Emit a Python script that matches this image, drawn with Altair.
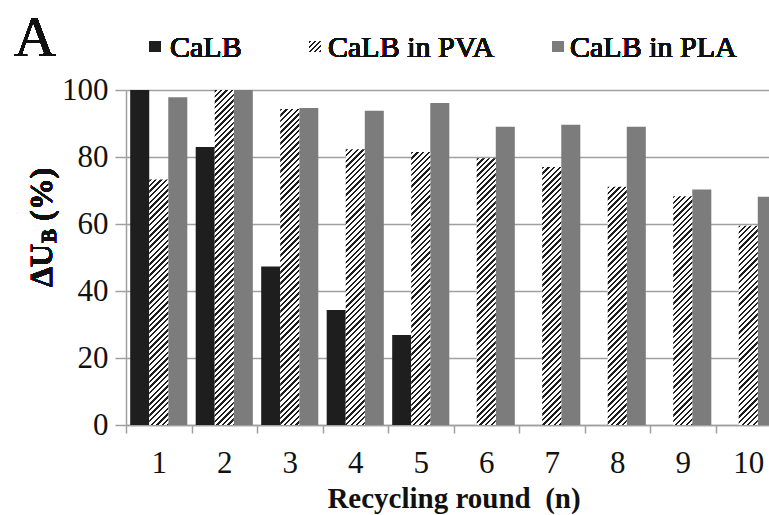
import altair as alt
import pandas as pd

# Recycling rounds and residual activity (%) for each enzyme preparation
rounds = [1, 2, 3, 4, 5, 6, 7, 8, 9, 10]
series = ["CaLB", "CaLB in PVA", "CaLB in PLA"]
calb = [100.0, 83.0, 47.3, 34.3, 26.9, None, None, None, None, None]
calb_pva = [73.3, 100.0, 94.3, 82.3, 81.5, 79.6, 77.0, 71.1, 68.3, 59.5]
calb_pla = [97.8, 100.0, 94.6, 93.8, 96.1, 89.0, 89.6, 89.0, 70.3, 68.1]
y_ticks = [0, 20, 40, 60, 80, 100]

rows = []
for name, vals in zip(series, [calb, calb_pva, calb_pla]):
    for r, v in zip(rounds, vals):
        if v is not None:
            rows.append({"round": r, "series": name, "value": v})
df = pd.DataFrame(rows)

# layout of the plotting area
PLOT_W = 643          # visible part of the plot
BAND_SPAN = 655       # full extent of the ten round bands
PLOT_H = 335
PAD_OUTER = 0.22
BAR_W = BAND_SPAN / len(rounds) / (len(series) + 2 * PAD_OUTER)

SERIF = "Liberation Serif"
GRID = "#a0a0a0"
DARK = "#1e1e1e"
MID = "#7c7c7c"
INK = "#111111"


def hatch(w, h, period=5.6, ink=0.42):
    """Diagonal '/' hatching as a hard-stop linear gradient over a w x h box."""
    span = w + h
    k = span / (w * w + h * h)
    n = int(span / period) + 1
    stops = []
    for j in range(n):
        a = j * period / span
        b = min((j + ink) * period / span, 1.0)
        c = min((j + 1) * period / span, 1.0)
        if a >= 1.0:
            break
        stops += [
            alt.GradientStop(color=DARK, offset=a),
            alt.GradientStop(color=DARK, offset=b),
            alt.GradientStop(color="#ffffff", offset=b),
            alt.GradientStop(color="#ffffff", offset=c),
        ]
    return alt.LinearGradient(gradient="linear", stops=stops,
                              x1=0, y1=0, x2=w * k, y2=h * k)


x_enc = alt.X(
    "round:O",
    scale=alt.Scale(range=[0, BAND_SPAN], paddingInner=0, paddingOuter=0),
    axis=alt.Axis(
        title="Recycling round\u00a0 (n)", labelAngle=0, tickBand="extent",
        tickSize=8, tickColor=GRID, tickWidth=1.5, domainColor=GRID, domainWidth=1.5,
        labelFont=SERIF, labelFontSize=31, labelColor=INK, labelPadding=15,
        titleFont=SERIF, titleFontSize=29, titleFontWeight="bold", titleColor=INK,
        titlePadding=6, grid=False,
    ),
)
xo_enc = alt.XOffset(
    "series:N",
    scale=alt.Scale(domain=series, paddingInner=0, paddingOuter=PAD_OUTER),
)
y_enc = alt.Y(
    "value:Q",
    scale=alt.Scale(domain=[0, 100], nice=False),
    axis=alt.Axis(
        values=y_ticks, title=None, tickSize=11, tickColor=GRID, tickWidth=1.5,
        domainColor=GRID, domainWidth=1.5, gridColor=GRID, gridWidth=1.5,
        labelFont=SERIF, labelFontSize=31, labelColor=INK, labelPadding=7,
    ),
)

base = alt.Chart(df).encode(x=x_enc, xOffset=xo_enc, y=y_enc)

solid_bars = base.transform_filter(
    alt.FieldOneOfPredicate(field="series", oneOf=["CaLB", "CaLB in PLA"])
).mark_bar(clip=True).encode(
    color=alt.Color("series:N", scale=alt.Scale(domain=series, range=[DARK, "#ffffff", MID]),
                    legend=None)
)

layers = [solid_bars]
for r, v in zip(rounds, calb_pva):
    h = v / 100 * PLOT_H
    layers.append(
        base.transform_filter(
            (alt.datum.series == "CaLB in PVA") & (alt.datum["round"] == r)
        ).mark_bar(clip=True, fill=hatch(BAR_W, h))
    )

# panel letter
layers.append(
    alt.Chart(df).mark_text(text="A", font=SERIF, fontSize=58, align="left",
                            baseline="alphabetic", color=INK)
    .encode(x=alt.value(-112), y=alt.value(-34))
)

# y-axis title with subscript
ytitle = dict(font=SERIF, fontWeight="bold", angle=270, align="left",
              baseline="alphabetic", color=INK)
layers.append(alt.Chart(df).mark_text(text="\u0394U", fontSize=32, **ytitle)
              .encode(x=alt.value(-74), y=alt.value(197)))
layers.append(alt.Chart(df).mark_text(text="B", fontSize=21, **ytitle)
              .encode(x=alt.value(-70), y=alt.value(153)))
layers.append(alt.Chart(df).mark_text(text="(%)", fontSize=32, **ytitle)
              .encode(x=alt.value(-74), y=alt.value(131)))

# legend row
legend_sym_x = [29, 189, 432]
legend_txt_x = [44, 202, 444]
sym_fills = [DARK, hatch(11, 11, period=5.0), MID]
for name, sx, tx, fill in zip(series, legend_sym_x, legend_txt_x, sym_fills):
    layers.append(
        alt.Chart(df).mark_rect(fill=fill)
        .encode(x=alt.value(sx - 5.5), x2=alt.value(sx + 5.5),
                y=alt.value(-49), y2=alt.value(-38))
    )
    layers.append(
        alt.Chart(df).mark_text(text=name, font=SERIF, fontSize=30, align="left",
                                baseline="alphabetic", color=INK)
        .encode(x=alt.value(tx), y=alt.value(-33))
    )

chart = alt.layer(*layers).properties(
    width=PLOT_W,
    height=PLOT_H,
    autosize=alt.AutoSizeParams(type="none"),
    padding={"left": 126, "top": 90, "right": 0, "bottom": 90},
    background="white",
).configure_view(stroke="transparent")

chart.save("out.html", embed_options={"renderer": "svg", "actions": False})
